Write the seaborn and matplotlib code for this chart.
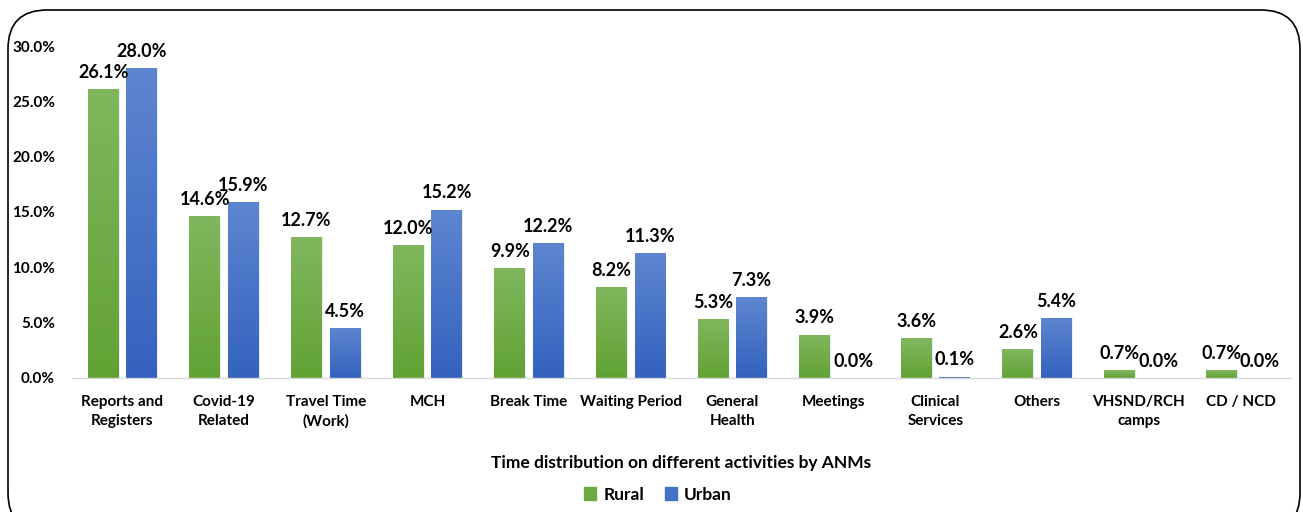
import matplotlib
matplotlib.use("Agg")
import matplotlib.pyplot as plt
import seaborn as sns
import numpy as np
import pandas as pd
from matplotlib.patches import FancyBboxPatch
from matplotlib.colors import LinearSegmentedColormap
from matplotlib.ticker import FuncFormatter

categories = ["Reports and\nRegisters", "Covid-19\nRelated", "Travel Time\n(Work)", "MCH",
              "Break Time", "Waiting Period", "General\nHealth", "Meetings",
              "Clinical\nServices", "Others", "VHSND/RCH\ncamps", "CD / NCD"]
rural = [26.1, 14.6, 12.7, 12.0, 9.9, 8.2, 5.3, 3.9, 3.6, 2.6, 0.7, 0.7]
urban = [28.0, 15.9, 4.5, 15.2, 12.2, 11.3, 7.3, 0.0, 0.1, 5.4, 0.0, 0.0]
series = ["Rural", "Urban"]
colors = ["#6AAA40", "#4472C4"]
# gradient ends (bottom, top) used to shade the bars like the original
shades = [("#62A234", "#80B75E"), ("#3462BE", "#5D85D0")]

df = pd.DataFrame({
    "Activity": categories * 2,
    "Share": rural + urban,
    "Area": ["Rural"] * len(rural) + ["Urban"] * len(urban),
})

sns.set_style("white")
plt.rcParams['font.family'] = ['Lato', 'DejaVu Sans']
plt.rcParams['text.color'] = 'black'

fig = plt.figure(figsize=(13.03, 5.12), dpi=100)
ax = fig.add_axes([0.055, 0.262, 0.936, 0.648])

sns.barplot(data=df, x="Activity", y="Share", hue="Area", hue_order=series,
            palette=colors, width=0.76, gap=0.2, ax=ax, legend=True, saturation=1)

ax.set_ylim(0, 30)
ax.set_xlim(-0.5, len(categories) - 0.5)

# vertical gradient inside each bar
for cont, (lo, hi) in zip(ax.containers, shades):
    cmap = LinearSegmentedColormap.from_list("g", [lo, hi])
    for bar in cont:
        h = bar.get_height()
        if h <= 0:
            continue
        x0 = bar.get_x()
        w = bar.get_width()
        grad = np.linspace(0, 1, 100).reshape(-1, 1)
        im = ax.imshow(grad, cmap=cmap, origin='lower', aspect='auto',
                       extent=[x0, x0 + w, 0, h], zorder=bar.get_zorder() + 0.1)
        im.set_clip_path(bar)
        bar.set_edgecolor('#E8EEF8')
        bar.set_linewidth(0.8)

for cont in ax.containers:
    ax.bar_label(cont, labels=[f"{v:.1f}%" for v in cont.datavalues],
                 padding=6, fontsize=13, fontweight='bold', color='black')

ax.set_ylim(0, 30)
ax.set_xlim(-0.5, len(categories) - 0.5)
ax.set_yticks(range(0, 31, 5))
ax.yaxis.set_major_formatter(FuncFormatter(lambda v, p: f"{v:.1f}%"))
ax.tick_params(axis='y', length=0, pad=12, labelsize=11, labelcolor='black')
ax.tick_params(axis='x', length=0, pad=12, labelsize=11, labelcolor='black')
for lab in ax.get_yticklabels():
    lab.set_fontweight('bold')
for lab in ax.get_xticklabels():
    lab.set_fontweight('bold')
    lab.set_linespacing(1.5)

for s in ['top', 'right', 'left']:
    ax.spines[s].set_visible(False)
ax.spines['bottom'].set_color('#D9D9D9')
ax.spines['bottom'].set_linewidth(1)

ax.set_ylabel("")
ax.set_xlabel("Time distribution on different activities by ANMs",
              fontsize=12.5, fontweight='bold', labelpad=19, color='black')

ax.legend_.remove()
handles = [plt.Rectangle((0, 0), 1, 1, color=c) for c in colors]
fig.legend(handles, series, loc='center', bbox_to_anchor=(0.505, 0.034), ncol=2,
           frameon=False, prop={'weight': 'bold', 'size': 12.5},
           handlelength=0.7, handleheight=0.7, handletextpad=0.4, columnspacing=1.2)

# rounded outer border
border = FancyBboxPatch((8 / 1303, -20 / 512), 1292 / 1303, 522 / 512,
                        boxstyle="round,pad=0,rounding_size=0.03",
                        transform=fig.transFigure, facecolor='none',
                        edgecolor='black', linewidth=1.2, clip_on=False,
                        mutation_aspect=1303 / 512)
fig.patches.append(border)

fig.savefig("out.png", dpi=100)
